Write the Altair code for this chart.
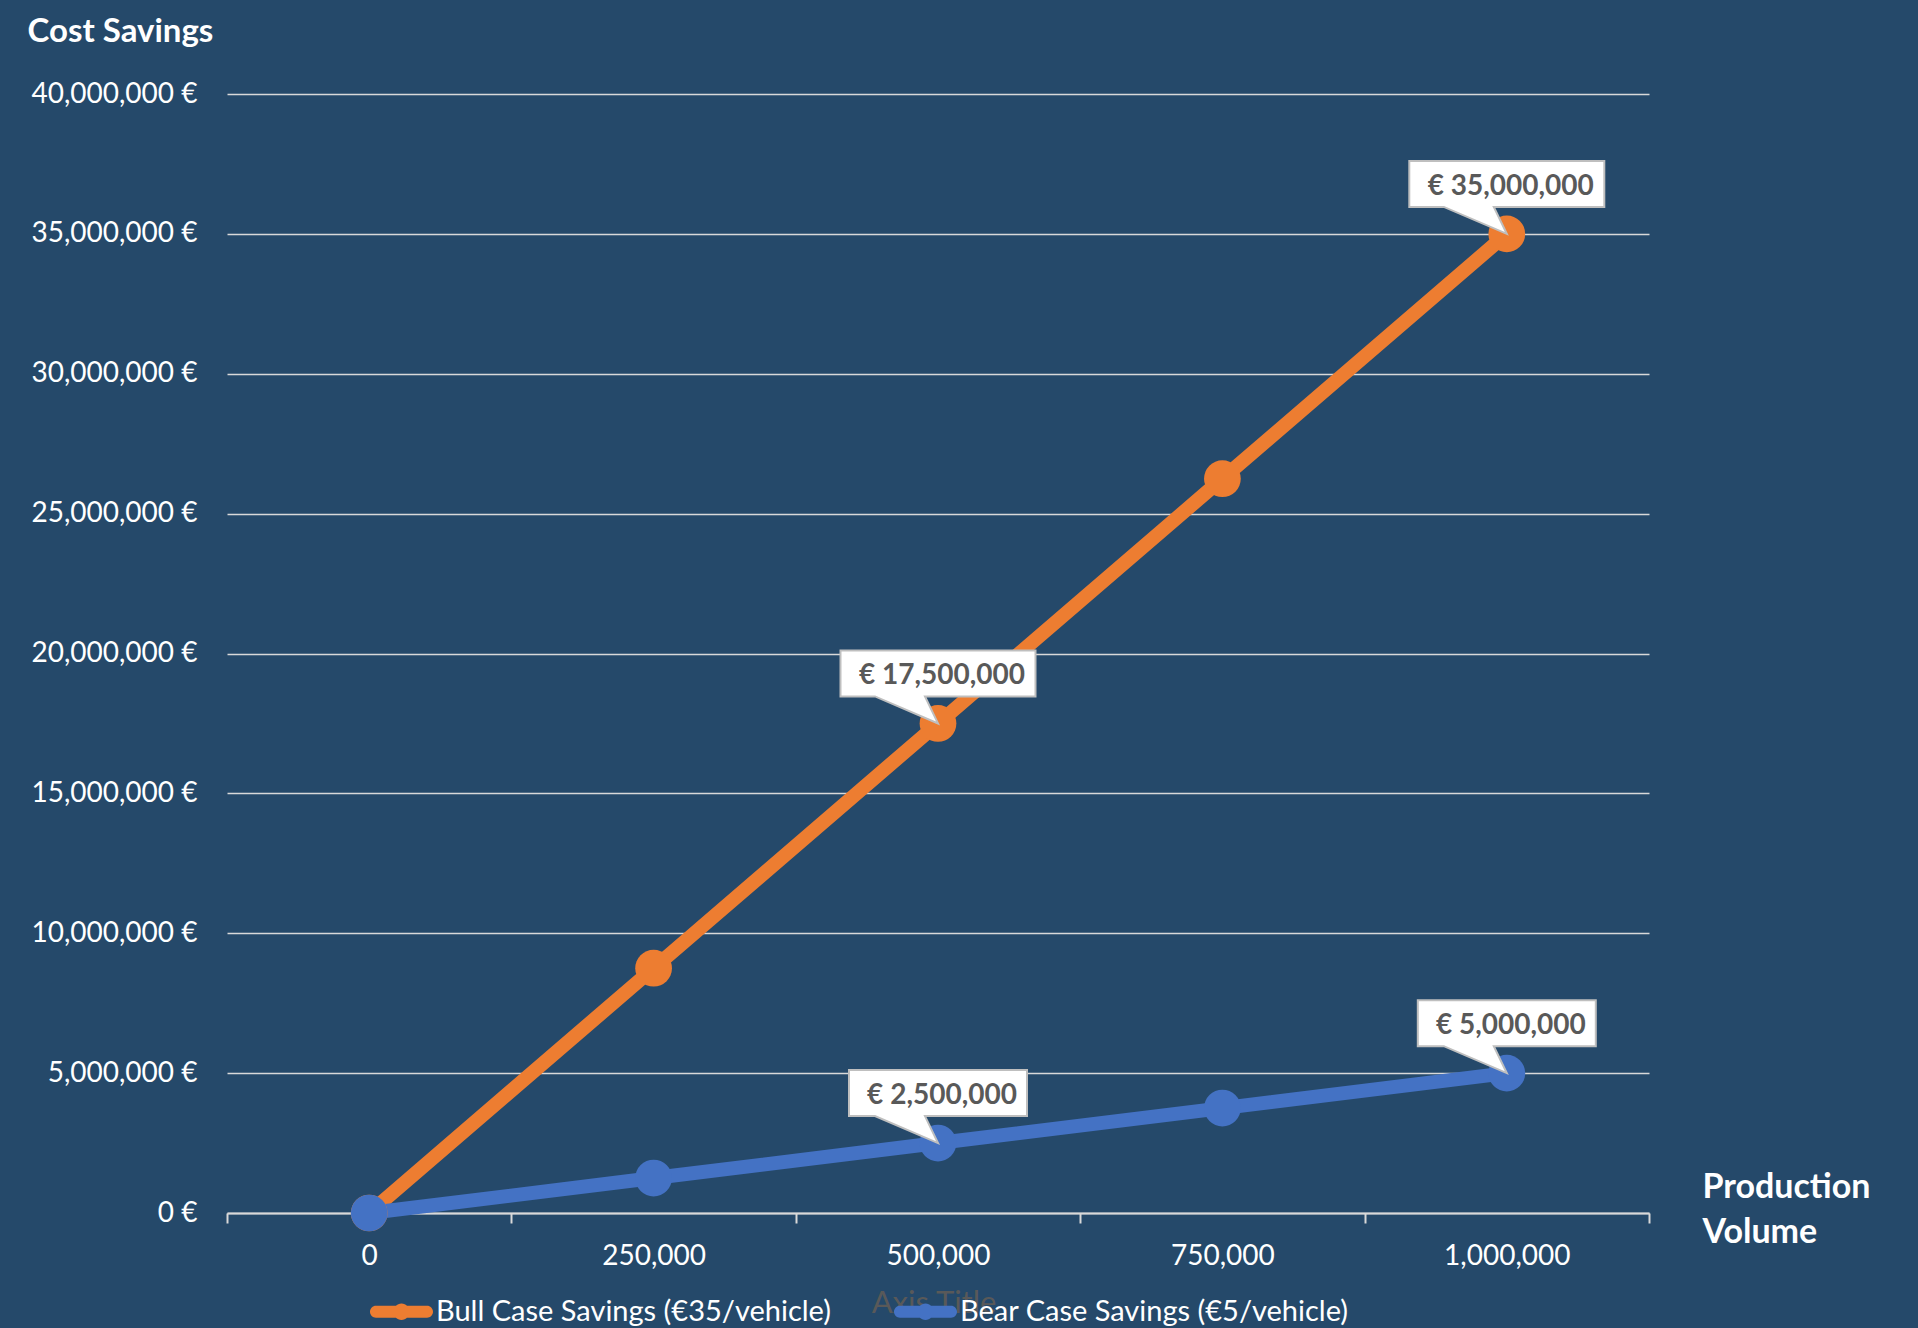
import altair as alt
import pandas as pd

# ---------------- data ----------------
volumes = [0, 250000, 500000, 750000, 1000000]
bull_savings = [0, 8750000, 17500000, 26250000, 35000000]
bear_savings = [0, 1250000, 2500000, 3750000, 5000000]
series_names = ["Bull Case Savings (€35/vehicle)", "Bear Case Savings (€5/vehicle)"]
series_colors = ["#ED7D31", "#4472C4"]
y_ticks = [0, 5000000, 10000000, 15000000, 20000000, 25000000, 30000000, 35000000, 40000000]

label_volumes = [500000, 1000000, 500000, 1000000]
label_values = [17500000, 35000000, 2500000, 5000000]
label_texts = ["€ 17,500,000", "€ 35,000,000", "€ 2,500,000", "€ 5,000,000"]

# ---------------- layout ----------------
W, H = 1422, 1119
BG = "#25496A"
GRID = "#D9D9D9"
FONT = "Lato"

step = volumes[1] - volumes[0]
half_step = step / 2
x_domain = [volumes[0] - half_step, volumes[-1] + half_step]
x_bounds = [v - half_step for v in volumes] + [volumes[-1] + half_step]

df = pd.DataFrame({
    "volume": volumes + volumes,
    "savings": bull_savings + bear_savings,
    "series": [series_names[0]] * len(volumes) + [series_names[1]] * len(volumes),
    "line_color": [series_colors[0]] * len(volumes) + [series_colors[1]] * len(volumes),
})


def callout_path(text):
    hw = (17 * len(text) - 9) / 200.0
    return (f"M{-hw:.3f},-0.73 L{hw:.3f},-0.73 L{hw:.3f},-0.27 L-0.13,-0.27 "
            f"L0,0 L-0.63,-0.27 L{-hw:.3f},-0.27 Z")


labels_df = pd.DataFrame({
    "volume": label_volumes,
    "savings": label_values,
    "text": label_texts,
    "shape": [callout_path(t) for t in label_texts],
})

x_scale = alt.Scale(domain=x_domain, nice=False, zero=False)
y_scale = alt.Scale(domain=[0, 40000000], nice=False, zero=True)

x_enc = alt.X(
    "volume:Q",
    scale=x_scale,
    axis=alt.Axis(
        values=x_bounds,
        labelExpr=f"datum.value > {volumes[-1]} ? '' : format(datum.value + {int(half_step)}, ',')",
        labelOffset=W / 10,
        labelOverlap=False,
        labelFlush=False,
        labelBound=False,
        labelFont=FONT,
        labelFontSize=28,
        labelColor="white",
        labelPadding=19,
        title=["Production", "Volume"],
        titleX=1475,
        titleY=-43,
        titleAlign="left",
        titleBaseline="top",
        titleAngle=0,
        titleFont=FONT,
        titleFontSize=34,
        titleFontWeight="bold",
        titleColor="white",
        titleLineHeight=45,
        grid=False,
        domainColor=GRID,
        domainWidth=2,
        tickColor=GRID,
        tickWidth=2,
        tickSize=10,
    ),
)

y_enc = alt.Y(
    "savings:Q",
    scale=y_scale,
    axis=alt.Axis(
        values=y_ticks,
        labelExpr="format(datum.value, ',') + ' €'",
        labelFont=FONT,
        labelFontSize=28,
        labelColor="white",
        labelPadding=30,
        title="Cost Savings",
        titleAngle=0,
        titleAlign="left",
        titleBaseline="alphabetic",
        titleX=-200,
        titleY=-53,
        titleFont=FONT,
        titleFontSize=33,
        titleFontWeight="bold",
        titleColor="white",
        domain=False,
        ticks=False,
        grid=True,
        gridColor=GRID,
        gridWidth=1.5,
    ),
)

x_plain = alt.X("volume:Q", scale=x_scale)
y_plain = alt.Y("savings:Q", scale=y_scale)

legend_symbol = ("M-0.81,-0.19 L0.81,-0.19 A0.19,0.19 0 0 1 0.81,0.19 L-0.81,0.19 "
                 "A0.19,0.19 0 0 1 -0.81,-0.19 Z M0.26,0 A0.26,0.26 0 1 1 -0.26,0 "
                 "A0.26,0.26 0 1 1 0.26,0 Z")

lines = alt.Chart(df).mark_line(strokeWidth=14, strokeCap="round", strokeJoin="round").encode(
    x=x_enc,
    y=y_enc,
    stroke=alt.Stroke("line_color:N", scale=None),
    detail="series:N",
)

points = alt.Chart(df).mark_circle(size=1350, opacity=1, strokeWidth=0).encode(
    x=x_plain,
    y=y_plain,
    fill=alt.Fill(
        "series:N",
        scale=alt.Scale(domain=series_names, range=series_colors),
        legend=alt.Legend(
            title=None,
            orient="none",
            direction="horizontal",
            legendX=143,
            legendY=1186,
            padding=0,
            symbolType=legend_symbol,
            symbolSize=3969,
            symbolStrokeWidth=0,
            symbolOpacity=1,
            labelFont=FONT,
            labelFontSize=29,
            labelColor="white",
            labelOffset=3,
            labelLimit=1000,
            columnPadding=62,
        ),
    ),
)

callouts = alt.Chart(labels_df).mark_point(
    size=40000, filled=True, fill="white", stroke="#BFBFBF", strokeWidth=2, opacity=1
).encode(
    x=x_plain,
    y=y_plain,
    shape=alt.Shape("shape:N", scale=None),
)

label_text = alt.Chart(labels_df).mark_text(
    font=FONT, fontSize=28, fontWeight="bold", color="#595959", dy=-47, dx=4,
    align="center", baseline="middle",
).encode(
    x=x_plain,
    y=y_plain,
    text="text:N",
)

axis_title_ghost = alt.Chart(pd.DataFrame({"t": ["Axis Title"]})).mark_text(
    font=FONT, fontSize=31, color="#595959", align="center", baseline="alphabetic",
).encode(
    x=alt.value(W / 2 - 4),
    y=alt.value(1219),
    text="t:N",
)

chart = alt.layer(axis_title_ghost, lines, points, callouts, label_text).properties(
    width=W,
    height=H,
    autosize=alt.AutoSizeParams(type="none"),
    padding={"left": 227, "top": 94, "right": 1918 - 227 - W, "bottom": 1328 - 94 - H},
    background=BG,
).configure_view(stroke="transparent")

chart.save("out.html", embed_options={"renderer": "svg", "actions": False})
